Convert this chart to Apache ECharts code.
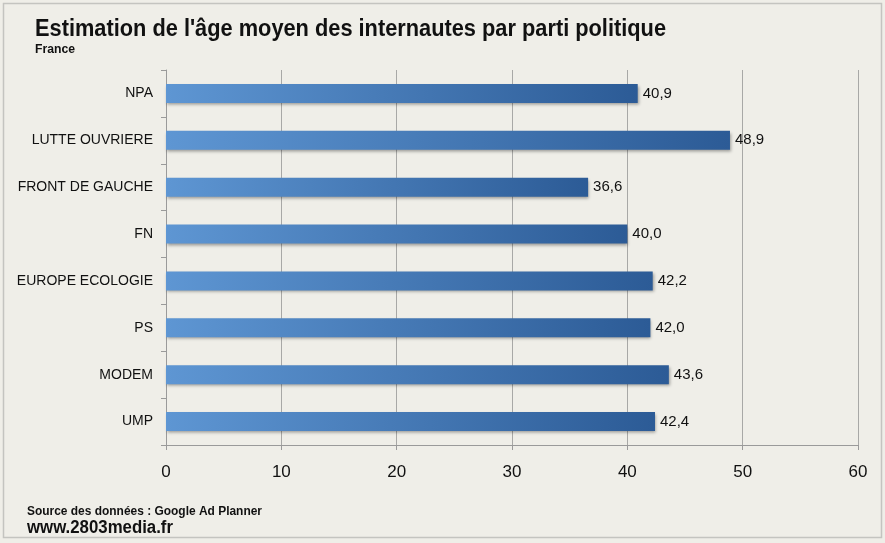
<!DOCTYPE html>
<html>
<head>
<meta charset="utf-8">
<script src="https://cdn.jsdelivr.net/npm/echarts@6/dist/echarts.min.js"></script>
<style>
  html, body { margin: 0; padding: 0; background: #fff; }
  #chart { width: 885px; height: 543px; }
</style>
</head>
<body>
<div id="chart"></div>
<script>
// partis, du haut vers le bas
const parties = ['NPA', 'LUTTE OUVRIERE', 'FRONT DE GAUCHE', 'FN', 'EUROPE ECOLOGIE', 'PS', 'MODEM', 'UMP']
const ages = [40.9, 48.9, 36.6, 40.0, 42.2, 42.0, 43.6, 42.4]
const xTicks = [0, 10, 20, 30, 40, 50, 60]

const FONT = '"Liberation Sans", Arial, Helvetica, sans-serif'

// le texte d'origine est en Helvetica condensée : on compresse horizontalement
const measureCtx = document.createElement('canvas').getContext('2d')
function squeeze(text, font, targetWidth) {
  measureCtx.font = font
  return targetWidth / measureCtx.measureText(text).width
}

function condensedText(text, x, y, size, targetWidth) {
  const font = `bold ${size}px ${FONT}`
  const sx = squeeze(text, font, targetWidth)
  return {
    type: 'text',
    x, y,
    scaleX: sx,
    style: { text, font, fill: '#111', textVerticalAlign: 'middle' },
  }
}

const chart = echarts.init(document.getElementById('chart'))

chart.setOption({
  backgroundColor: '#efeee8',
  animation: false,
  graphic: [
    {
      type: 'rect',
      shape: { x: 3.5, y: 3.5, width: 878, height: 534 },
      style: { fill: 'none', stroke: '#c4c4c0', lineWidth: 1.5 },
    },
    condensedText("Estimation de l'âge moyen des internautes par parti politique", 35, 30, 23, 631),
    condensedText('France', 35, 50, 12, 40),
    condensedText('Source des données : Google Ad Planner', 27, 511, 13, 235),
    condensedText('www.2803media.fr', 27, 528, 18, 146),
  ],
  grid: { left: 166, right: 27, top: 70, bottom: 98 },
  xAxis: {
    type: 'value',
    min: 0,
    max: 60,
    interval: 10,
    axisLine: { show: true, lineStyle: { color: '#9a9a9a', width: 1 } },
    axisTick: { show: true, length: 5, lineStyle: { color: '#9a9a9a' } },
    axisLabel: {
      margin: 19,
      fontFamily: FONT,
      fontSize: 17,
      color: '#111',
      formatter: (v) => (xTicks.includes(v) ? String(v) : ''),
    },
    splitLine: { show: true, lineStyle: { color: '#a8a8a6', width: 1 } },
  },
  yAxis: {
    type: 'category',
    data: parties,
    inverse: true,
    axisLine: { show: true, lineStyle: { color: '#9a9a9a', width: 1 } },
    axisTick: { show: true, length: 5, lineStyle: { color: '#9a9a9a' } },
    axisLabel: { margin: 13, fontFamily: FONT, fontSize: 14, color: '#111' },
  },
  series: [
    {
      type: 'bar',
      data: ages,
      barWidth: 19,
      itemStyle: {
        color: new echarts.graphic.LinearGradient(0, 0, 1, 0, [
          { offset: 0, color: '#5e96d3' },
          { offset: 1, color: '#2c5b96' },
        ]),
        shadowColor: 'rgba(0,0,0,0.35)',
        shadowBlur: 3,
        shadowOffsetY: 2,
        shadowOffsetX: 1,
      },
      label: {
        show: true,
        position: 'right',
        distance: 5,
        fontFamily: FONT,
        fontSize: 15,
        color: '#111',
        formatter: (p) => p.value.toFixed(1).replace('.', ','),
      },
    },
  ],
})
</script>
</body>
</html>
